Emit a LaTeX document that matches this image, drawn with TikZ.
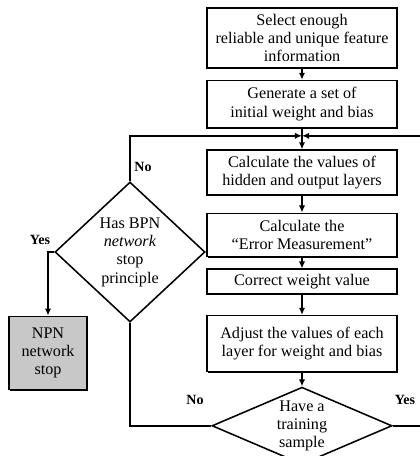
\documentclass[tikz,border=0pt]{standalone}
\usepackage{fontspec}
\setmainfont{Liberation Serif}
\usetikzlibrary{positioning,calc,arrows.meta,shapes.geometric,shadows}
\definecolor{stopgray}{RGB}{200,200,200}

\begin{document}
\begin{tikzpicture}[
    x=0.025cm, y=-0.025cm,
    font=\fontsize{11.5}{13}\selectfont,
    box/.style={rectangle, draw=black, fill=white, line width=1.1pt,
                minimum width=4.75cm, align=center, inner sep=2pt,
                drop shadow={shadow xshift=0.9pt, shadow yshift=-0.9pt, fill=black, opacity=1}},
    decision/.style={diamond, draw=black, fill=white, line width=1.1pt,
                     align=center, inner sep=0pt},
    stopbox/.style={rectangle, draw=black, fill=stopgray, line width=1.1pt,
                    minimum width=1.95cm, minimum height=1.83cm, align=center,
                    drop shadow={shadow xshift=0.9pt, shadow yshift=-0.9pt, fill=black, opacity=1}},
    arrow/.style={-{Latex[length=5pt,width=4.5pt]}, line width=1.3pt},
    wire/.style={line width=1.3pt},
    lbl/.style={font=\fontsize{10}{11}\selectfont\bfseries}
]
\useasboundingbox[fill=white] (0,0) rectangle (420,456);

% main column
\node[box, minimum height=1.5cm] (select) at (302,38) {Select enough\\reliable and unique feature\\information};
\node[box, minimum height=1.18cm, below=0.275cm of select] (init) {Generate a set of\\initial weight and bias};
\node[box, minimum height=1.12cm, below=0.52cm of init] (calc) {Calculate the values of\\hidden and output layers};
\node[box, minimum height=1.08cm, below=0.42cm of calc] (err) {Calculate the\\``Error Measurement''};
\node[box, minimum height=0.62cm, below=0.28cm of err] (corr) {Correct weight value};
\node[box, minimum height=1.4cm, below=0.5cm of corr] (adjust) {Adjust the values of each\\layer for weight and bias};
\node[decision, minimum width=4.5cm, minimum height=1.93cm, aspect=2.3,
      below=0.35cm of adjust] (sample) {Have a\\training\\sample};

% left side
\node[decision, minimum width=3.75cm, minimum height=3.5cm, aspect=1.07] (bpn) at (130,252)
    {Has BPN\\\textit{network}\\stop\\principle};
\node[stopbox] (npn) at (48,353) {NPN\\network\\stop};

\coordinate (loop) at ($(init.south)!0.35!(calc.north)$);
\coordinate (redge) at (420,0);

\draw[arrow] (select) -- (init);
\draw[wire] (init) -- (loop);
\draw[arrow] (loop) -- (calc);
\draw[arrow] (calc) -- (err);
\draw[arrow] (err) -- (corr);
\draw[arrow] (corr) -- (adjust);
\draw[arrow] (adjust) -- (sample);

\draw[arrow] (bpn.north) |- (loop);
\draw[arrow] (loop -| redge) -- (loop);
\draw[wire] (sample.east) -- (sample.east -| redge);
\draw[wire] (sample.west) -| (bpn.south);
\draw[arrow] (bpn.west) -| (npn.north);

\node[lbl] (lno1) at (143,167) {No};
\node[lbl] (lyes1) at (40,240) {Yes};
\node[lbl] (lno2) at (195,400) {No};
\node[lbl] (lyes2) at (405,400) {Yes};

\end{tikzpicture}
\end{document}
